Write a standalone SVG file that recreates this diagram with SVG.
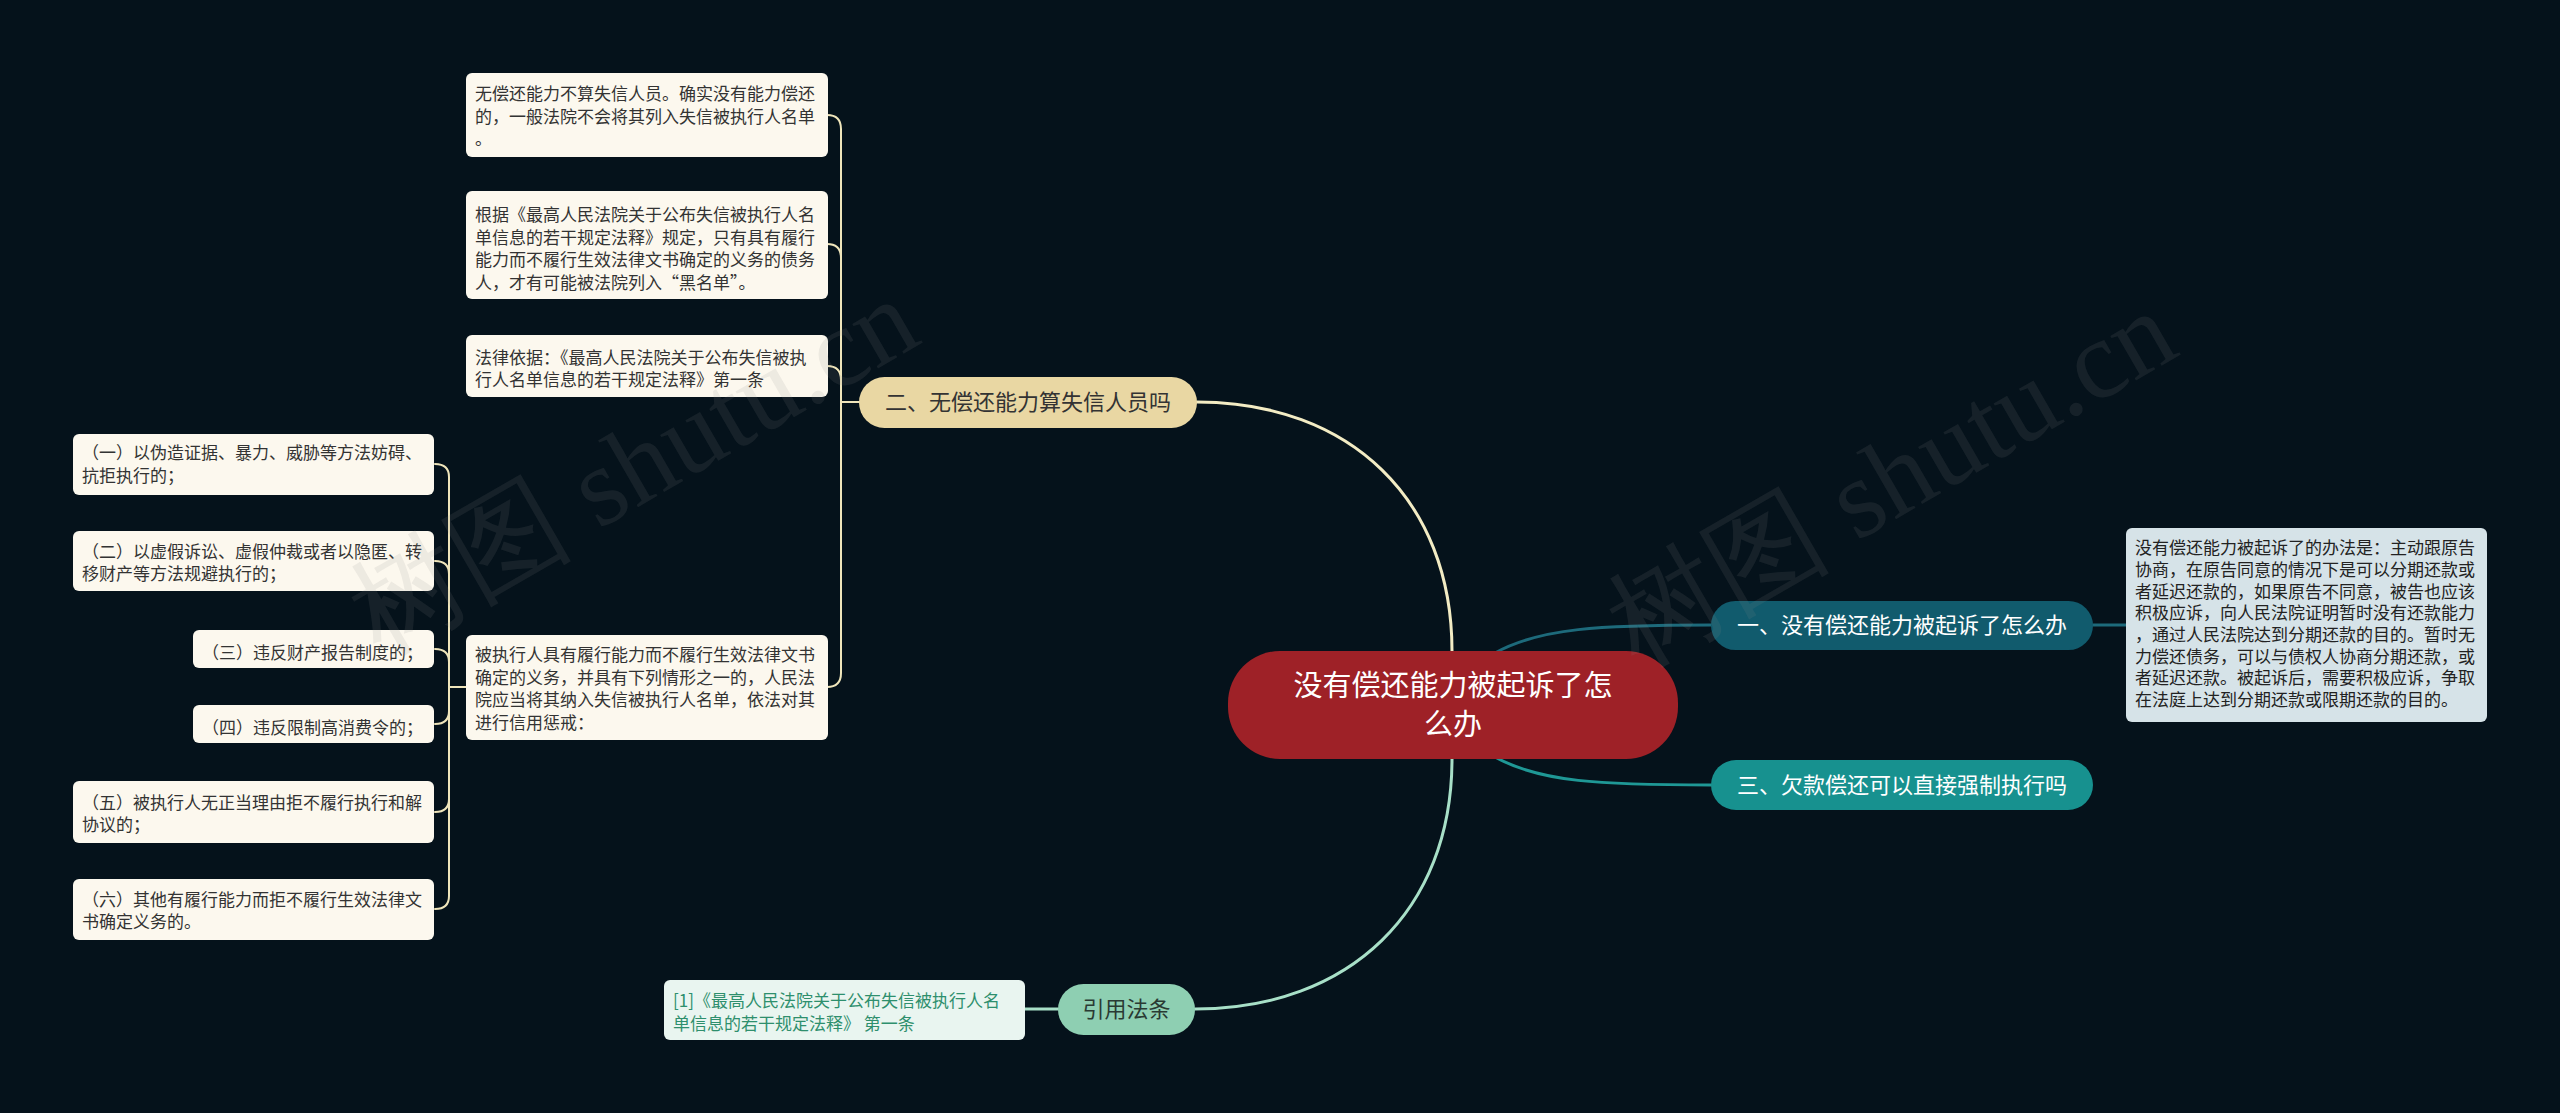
<svg xmlns="http://www.w3.org/2000/svg" width="2560" height="1113" viewBox="0 0 2560 1113">
<style>
text{font-family:"Noto Sans CJK SC","Noto Sans",sans-serif;}
.box{fill:#fcf8ee;}
.bt{font-size:17px;fill:#333333;}
.bt.dk{fill:#222222;}
.bt.gr{fill:#2e8f6d;}
.pill{font-size:22px;}
.ln{fill:none;stroke-linecap:round;}
.cream{stroke:#efe5bb;stroke-width:2;}
.wm{font-family:"Liberation Serif","DejaVu Serif",serif;font-size:112px;fill:#8a8a8a;fill-opacity:0.13;}
</style>
<rect x="0" y="0" width="2560" height="1113" fill="#05121b"/>
<g id="connectors">
<path class="ln" d="M1197,402 C1350,402 1452,500 1452,651" stroke="#f3ecc4" stroke-width="3"/>
<path class="ln" d="M1452,759 C1452,910 1350,1009 1195,1009" stroke="#a8e0c8" stroke-width="3"/>
<path class="ln" d="M1495,653 C1540,628 1600,625 1711,625" stroke="#1d6a7b" stroke-width="3"/>
<path class="ln" d="M1495,757 C1540,782 1600,785 1711,785" stroke="#1f9896" stroke-width="3"/>
<path class="ln" d="M2093,625 H2126" stroke="#1d6a7b" stroke-width="3"/>
<path class="ln" d="M1058,1009 H1025" stroke="#a8e0c8" stroke-width="3"/>
<path class="ln cream" d="M859,402 H841 V129 Q841,115 827,115"/>
<path class="ln cream" d="M859,402 H841 V258 Q841,244 827,244"/>
<path class="ln cream" d="M859,402 H841 V380 Q841,366 827,366"/>
<path class="ln cream" d="M859,402 H841 V673 Q841,687 827,687"/>
<path class="ln cream" d="M465,687 H449 V477 Q449,464 435,464"/>
<path class="ln cream" d="M465,687 H449 V574 Q449,561 435,561"/>
<path class="ln cream" d="M465,687 H449 V662 Q449,649 435,649"/>
<path class="ln cream" d="M465,687 H449 V711 Q449,724 435,724"/>
<path class="ln cream" d="M465,687 H449 V799 Q449,812 435,812"/>
<path class="ln cream" d="M465,687 H449 V896 Q449,909 435,909"/>
</g>
<g id="center">
<rect x="1228" y="651" width="450" height="108" rx="52" fill="#9e2127"/>
<text x="1453" y="696" font-size="29" fill="#ffffff" text-anchor="middle">没有偿还能力被起诉了怎</text>
<text x="1453" y="735" font-size="29" fill="#ffffff" text-anchor="middle">么办</text>
</g>
<g id="node1">
<rect x="1711" y="601" width="382" height="49" rx="24.5" fill="#115b6d"/>
<text class="pill" x="1902" y="633" fill="#ffffff" text-anchor="middle">一、没有偿还能力被起诉了怎么办</text>
</g>
<g id="node1-detail">
<rect x="2126" y="528" width="361" height="194" rx="6" fill="#d6e3e8"/>
<text class="bt dk"><tspan x="2135" y="554">没有偿还能力被起诉了的办法是：主动跟原告</tspan><tspan x="2135" y="576">协商，在原告同意的情况下是可以分期还款或</tspan><tspan x="2135" y="597.5">者延迟还款的，如果原告不同意，被告也应该</tspan><tspan x="2135" y="619">积极应诉，向人民法院证明暂时没有还款能力</tspan><tspan x="2135" y="641">，通过人民法院达到分期还款的目的。暂时无</tspan><tspan x="2135" y="662.5">力偿还债务，可以与债权人协商分期还款，或</tspan><tspan x="2135" y="684">者延迟还款。被起诉后，需要积极应诉，争取</tspan><tspan x="2135" y="706">在法庭上达到分期还款或限期还款的目的。</tspan></text>
</g>
<g id="node3">
<rect x="1711" y="760" width="382" height="50" rx="25" fill="#17918f"/>
<text class="pill" x="1902" y="793" fill="#ffffff" text-anchor="middle">三、欠款偿还可以直接强制执行吗</text>
</g>
<g id="node2">
<rect x="859" y="377" width="338" height="51" rx="25.5" fill="#e9d7a3"/>
<text class="pill" x="1028" y="410" fill="#333333" text-anchor="middle">二、无偿还能力算失信人员吗</text>
</g>
<g id="node2-a">
<rect class="box" x="466" y="73" width="362" height="84" rx="6"/>
<text class="bt"><tspan x="475" y="100">无偿还能力不算失信人员。确实没有能力偿还</tspan><tspan x="475" y="122.5">的，一般法院不会将其列入失信被执行人名单</tspan><tspan x="475" y="145">。</tspan></text>
</g>
<g id="node2-b">
<rect class="box" x="466" y="191" width="362" height="108" rx="6"/>
<text class="bt"><tspan x="475" y="221">根据《最高人民法院关于公布失信被执行人名</tspan><tspan x="475" y="243.5">单信息的若干规定法释》规定，只有具有履行</tspan><tspan x="475" y="266">能力而不履行生效法律文书确定的义务的债务</tspan><tspan x="475" y="288.5">人，才有可能被法院列入“黑名单”。</tspan></text>
</g>
<g id="node2-c">
<rect class="box" x="466" y="335" width="362" height="62" rx="6"/>
<text class="bt"><tspan x="475" y="364">法律依据：《最高人民法院关于公布失信被执</tspan><tspan x="475" y="386">行人名单信息的若干规定法释》第一条</tspan></text>
</g>
<g id="node2-d">
<rect class="box" x="466" y="635" width="362" height="105" rx="6"/>
<text class="bt"><tspan x="475" y="661">被执行人具有履行能力而不履行生效法律文书</tspan><tspan x="475" y="683.5">确定的义务，并具有下列情形之一的，人民法</tspan><tspan x="475" y="706">院应当将其纳入失信被执行人名单，依法对其</tspan><tspan x="475" y="728.5">进行信用惩戒：</tspan></text>
</g>
<g id="item1">
<rect class="box" x="73" y="434" width="361" height="61" rx="6"/>
<text class="bt"><tspan x="82" y="459">（一）以伪造证据、暴力、威胁等方法妨碍、</tspan><tspan x="82" y="482">抗拒执行的；</tspan></text>
</g>
<g id="item2">
<rect class="box" x="73" y="531" width="361" height="60" rx="6"/>
<text class="bt"><tspan x="82" y="558">（二）以虚假诉讼、虚假仲裁或者以隐匿、转</tspan><tspan x="82" y="580">移财产等方法规避执行的；</tspan></text>
</g>
<g id="item3">
<rect class="box" x="193" y="630" width="241" height="38" rx="6"/>
<text class="bt" x="202" y="659">（三）违反财产报告制度的；</text>
</g>
<g id="item4">
<rect class="box" x="193" y="705" width="241" height="38" rx="6"/>
<text class="bt" x="202" y="734">（四）违反限制高消费令的；</text>
</g>
<g id="item5">
<rect class="box" x="73" y="781" width="361" height="62" rx="6"/>
<text class="bt"><tspan x="82" y="809">（五）被执行人无正当理由拒不履行执行和解</tspan><tspan x="82" y="831">协议的；</tspan></text>
</g>
<g id="item6">
<rect class="box" x="73" y="879" width="361" height="61" rx="6"/>
<text class="bt"><tspan x="82" y="906">（六）其他有履行能力而拒不履行生效法律文</tspan><tspan x="82" y="928">书确定义务的。</tspan></text>
</g>
<g id="node-ref">
<rect x="1058" y="984" width="137" height="51" rx="25.5" fill="#8ecfb2"/>
<text class="pill" x="1126.5" y="1017" fill="#2a3a33" text-anchor="middle">引用法条</text>
</g>
<g id="node-ref-detail">
<rect x="664" y="980" width="361" height="60" rx="6" fill="#e9f5f0"/>
<text class="bt gr"><tspan x="673" y="1007">[1]《最高人民法院关于公布失信被执行人名</tspan><tspan x="673" y="1030">单信息的若干规定法释》 第一条</tspan></text>
</g>
<g id="watermarks">
<text class="wm" transform="translate(380,656) rotate(-30)">树图 shutu.cn</text>
<text class="wm" transform="translate(1638,668) rotate(-30)">树图 shutu.cn</text>
</g>
</svg>
